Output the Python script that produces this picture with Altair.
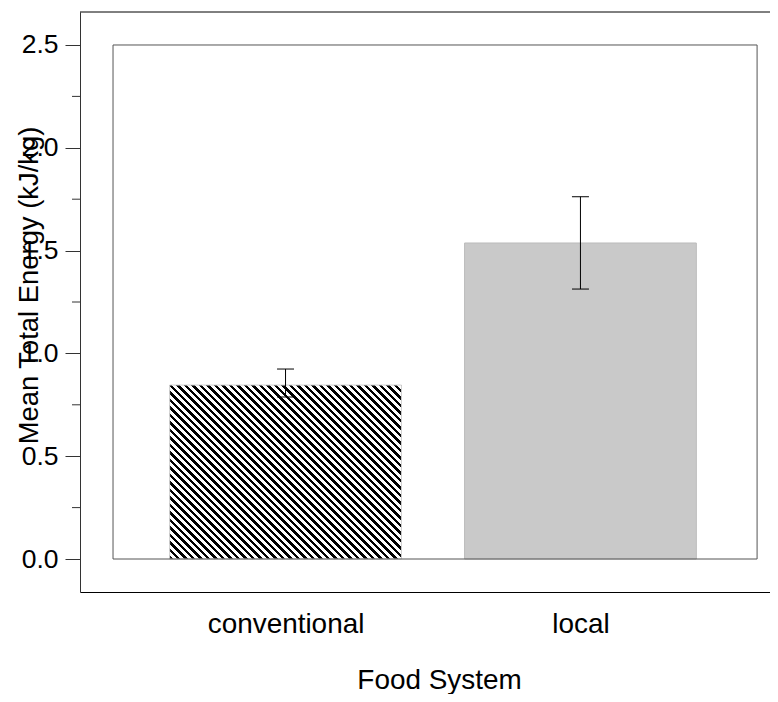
import math
import altair as alt
import pandas as pd

# ---- data ----
categories = ["conventional", "local"]
mean_energy = [0.846, 1.537]
err_lower = [0.788, 1.313]
err_upper = [0.924, 1.762]

y_major = [0.0, 0.5, 1.0, 1.5, 2.0, 2.5]
y_minor = [0.25, 0.75, 1.25, 1.75, 2.25]

# ---- layout / style constants ----
W, H = 690, 580
PX_PER_X = 294.9
X_DOM = [0.303, 0.303 + W / PX_PER_X]
Y_DOM = [-0.1605, 2.6605]
HALF = 0.393
FRAME_X = [0.415, 2.599]
FRAME_Y = [0.0, 2.5]
FONT = "Liberation Sans"

df = pd.DataFrame({"system": categories, "mean": mean_energy,
                   "lo": err_lower, "hi": err_upper})
df["pos"] = list(range(1, len(categories) + 1))
df["left"] = df["pos"] - HALF
df["right"] = df["pos"] + HALF

xs = alt.Scale(domain=X_DOM, nice=False, zero=False)
ys = alt.Scale(domain=Y_DOM, nice=False, zero=False)

# hatch fill (diagonal "\" stripes) via a striped linear gradient
kx = W / (X_DOM[1] - X_DOM[0])
ky = H / (Y_DOM[1] - Y_DOM[0])
bw = 2 * HALF * kx
bh = mean_energy[0] * ky
s = (bw + bh) / (bw * bw + bh * bh)
P = 7.5
frac = 0.5
total = bw + bh
stops = []
n = int(math.ceil(total / P)) + 1
for k in range(n):
    a = k * P / total
    b = (k * P + frac * P) / total
    c = (k + 1) * P / total
    if a > 1:
        break
    stops.append(alt.GradientStop(offset=min(a, 1), color="black"))
    stops.append(alt.GradientStop(offset=min(b, 1), color="black"))
    stops.append(alt.GradientStop(offset=min(b, 1), color="white"))
    stops.append(alt.GradientStop(offset=min(c, 1), color="white"))
hatch = alt.LinearGradient(gradient="linear", stops=stops,
                           x1=0, y1=1, x2=bw * s, y2=1 - bh * s)

label_expr = "[" + ",".join("'%s'" % c for c in categories) + "][round(datum.value) - 1]"

x_axis = alt.Axis(values=df["pos"].tolist(), labelExpr=label_expr, ticks=False,
                  domain=True, domainColor="black", domainWidth=1,
                  grid=False, labelFlush=False,
                  labelFont=FONT, labelFontSize=27.9, labelColor="black",
                  labelBaseline="alphabetic", labelPadding=40,
                  title="Food System", titleFont=FONT, titleFontSize=27.9,
                  titleFontWeight="normal", titleColor="black",
                  titleX=359, titleY=96, titleBaseline="alphabetic",
                  titleAlign="center")
y_axis = alt.Axis(values=y_major, format=".1f", tickSize=15, tickColor="#333",
                  domain=True, domainColor="#333", domainWidth=1,
                  grid=False, labelPadding=7,
                  labelFont=FONT, labelFontSize=26.5, labelColor="black",
                  title="Mean Total Energy (kJ/kg)", titleFont=FONT,
                  titleFontSize=27.4, titleFontWeight="normal", titleColor="black",
                  titleX=-43, titleY=273, titleAngle=270,
                  titleBaseline="alphabetic", titleAlign="center")

base = alt.Chart(df)

bar_conv = base.transform_filter(alt.datum.system == categories[0]).mark_bar(
    fill=hatch, stroke="#cfcfcf", strokeWidth=1
).encode(
    x=alt.X("left:Q", scale=xs, axis=x_axis),
    x2="right:Q",
    y=alt.Y("mean:Q", scale=ys, axis=y_axis),
    y2=alt.datum(0),
)

bar_local = base.transform_filter(alt.datum.system == categories[1]).mark_bar(
    fill="#c9c9c9", stroke="#bcbcbc", strokeWidth=1
).encode(
    x=alt.X("left:Q", scale=xs),
    x2="right:Q",
    y=alt.Y("mean:Q", scale=ys),
    y2=alt.datum(0),
)

one = pd.DataFrame({"f": [0]})

frame = alt.Chart(one).mark_rect(
    fill="transparent", stroke="#555", strokeWidth=1
).encode(
    x=alt.X(datum=FRAME_X[0], type="quantitative", scale=xs),
    x2=alt.datum(FRAME_X[1]),
    y=alt.Y(datum=FRAME_Y[0], type="quantitative", scale=ys),
    y2=alt.datum(FRAME_Y[1]),
)

top_line = alt.Chart(one).mark_rule(color="black", strokeWidth=1).encode(
    x=alt.X(datum=X_DOM[0], type="quantitative", scale=xs),
    x2=alt.datum(X_DOM[1]),
    y=alt.Y(datum=Y_DOM[1], type="quantitative", scale=ys),
)

err_rule = base.mark_rule(color="black", strokeWidth=1).encode(
    x=alt.X("pos:Q", scale=xs),
    y=alt.Y("lo:Q", scale=ys),
    y2="hi:Q",
)
cap_lo = base.mark_tick(orient="horizontal", size=17, thickness=1, color="black",
                        opacity=1).encode(
    x=alt.X("pos:Q", scale=xs), y=alt.Y("lo:Q", scale=ys))
cap_hi = base.mark_tick(orient="horizontal", size=17, thickness=1, color="black",
                        opacity=1).encode(
    x=alt.X("pos:Q", scale=xs), y=alt.Y("hi:Q", scale=ys))

minor = alt.Chart(pd.DataFrame({"v": y_minor})).mark_rule(
    color="#333", strokeWidth=1
).encode(
    y=alt.Y("v:Q", scale=ys),
    x=alt.value(-8),
    x2=alt.value(0),
)

chart = alt.layer(bar_conv, bar_local, frame, top_line, err_rule, cap_lo, cap_hi,
                  minor).properties(
    width=W, height=H,
    autosize=alt.AutoSizeParams(type="none"),
    padding={"left": 72, "top": 4, "right": 0, "bottom": 102},
).configure_view(stroke=None)

chart.save("out.html", embed_options={"renderer": "svg", "actions": False})
